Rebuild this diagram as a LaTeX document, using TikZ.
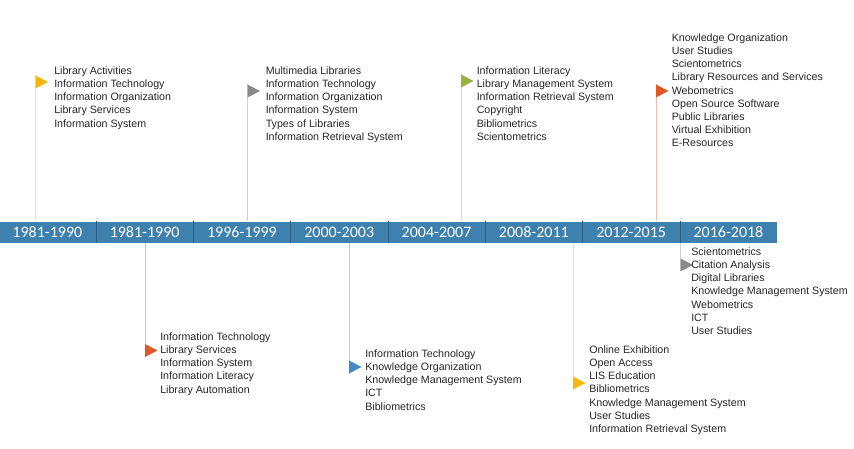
\documentclass[tikz,border=0pt]{standalone}
\usepackage{fontspec}
\setmainfont{Liberation Sans}
\newfontfamily\barfont{Carlito}
\usepackage{xcolor}
\usepackage{tikz}
\definecolor{barblue}{HTML}{3E80AE}
\definecolor{bardark}{HTML}{2A5F86}
\definecolor{flaggold}{HTML}{F6B70A}
\definecolor{flagred}{HTML}{E2572A}
\definecolor{flaggray}{HTML}{8A8A8A}
\definecolor{flagblue}{HTML}{4389C2}
\definecolor{flaggreen}{HTML}{94B43C}

\begin{document}
\begin{tikzpicture}[x=0.75pt, y=-0.75pt,
  period/.style={fill=barblue, text=white, minimum width=72.975pt, minimum height=15.75pt, inner sep=0pt, font=\barfont\fontsize{12}{14}\selectfont},
  topics/.style={anchor=north west, inner sep=0pt, align=left, text=black!85, font=\fontsize{8}{9.9}\selectfont},
  divider/.style={draw=bardark, line width=0.75pt},
  pole/.style={line width=0.75pt}
]
\useasboundingbox (0,0) rectangle (854,449);

% Timeline bar
\node[period] (p1) at (47.35, 232.2) {1981-1990};
\node[period] (p2) at (144.65, 232.2) {1981-1990};
\node[period] (p3) at (241.95, 232.2) {1996-1999};
\node[period] (p4) at (339.25, 232.2) {2000-2003};
\node[period] (p5) at (436.55, 232.2) {2004-2007};
\node[period] (p6) at (533.85, 232.2) {2008-2011};
\node[period] (p7) at (631.15, 232.2) {2012-2015};
\node[period] (p8) at (728.45, 232.2) {2016-2018};

\draw[divider] (p1.north east) -- (p1.south east);
\draw[divider] (p2.north east) -- (p2.south east);
\draw[divider] (p3.north east) -- (p3.south east);
\draw[divider] (p4.north east) -- (p4.south east);
\draw[divider] (p5.north east) -- (p5.south east);
\draw[divider] (p6.north east) -- (p6.south east);
\draw[divider] (p7.north east) -- (p7.south east);

% Flags above the bar
\coordinate (f1) at (35.5, 75.5);
\coordinate (f3) at (247.5, 84.5);
\coordinate (f5) at (461, 74.5);
\coordinate (f7) at (656, 84.5);
\draw[pole, flaggold!40] (f1) -- (f1 |- p1.north);
\draw[pole, flaggray!40] (f3) -- (f3 |- p3.north);
\draw[pole, flaggreen!40] (f5) -- (f5 |- p5.north);
\draw[pole, flagred!40] (f7) -- (f7 |- p7.north);
\fill[flaggold] (f1) -- ++(12.5, 6.5) -- ++(-12.5, 6.5) -- cycle;
\fill[flaggray] (f3) -- ++(12.5, 6.5) -- ++(-12.5, 6.5) -- cycle;
\fill[flaggreen] (f5) -- ++(12.5, 6.5) -- ++(-12.5, 6.5) -- cycle;
\fill[flagred] (f7) -- ++(12.5, 6.5) -- ++(-12.5, 6.5) -- cycle;

% Flags below the bar
\coordinate (f2) at (145, 357);
\coordinate (f4) at (349, 373.5);
\coordinate (f6) at (573, 389.5);
\coordinate (f8) at (680.5, 271.5);
\draw[pole, flagred!40] (p2.south -| f2) -- (f2);
\draw[pole, flagblue!40] (p4.south -| f4) -- (f4);
\draw[pole, flaggold!40] (p6.south -| f6) -- (f6);
\draw[pole, flaggray!40] (p8.south -| f8) -- (f8);
\fill[flagred] (f2) -- ++(12.5, -6.5) -- ++(-12.5, -6.5) -- cycle;
\fill[flagblue] (f4) -- ++(12.5, -6.5) -- ++(-12.5, -6.5) -- cycle;
\fill[flaggold] (f6) -- ++(12.5, -6.5) -- ++(-12.5, -6.5) -- cycle;
\fill[flaggray] (f8) -- ++(12.5, -6.5) -- ++(-12.5, -6.5) -- cycle;

% Topic lists
\node[topics] (t1) at (54, 66.4) {Library Activities\\Information Technology\\Information Organization\\Library Services\\Information System};
\node[topics] (t2) at (160, 332.4) {Information Technology\\Library Services\\Information System\\Information Literacy\\Library Automation};
\node[topics] (t3) at (265.5, 66.4) {Multimedia Libraries\\Information Technology\\Information Organization\\Information System\\Types of Libraries\\Information Retrieval System};
\node[topics] (t4) at (365, 349.4) {Information Technology\\Knowledge Organization\\Knowledge Management System\\ICT\\Bibliometrics};
\node[topics] (t5) at (476.5, 66.4) {Information Literacy\\Library Management System\\Information Retrieval System\\Copyright\\Bibliometrics\\Scientometrics};
\node[topics] (t6) at (589, 345.4) {Online Exhibition\\Open Access\\LIS Education\\Bibliometrics\\Knowledge Management System\\User Studies\\Information Retrieval System};
\node[topics] (t7) at (671.5, 33.4) {Knowledge Organization\\User Studies\\Scientometrics\\Library Resources and Services\\Webometrics\\Open Source Software\\Public Libraries\\Virtual Exhibition\\E-Resources};
\node[topics] (t8) at (691, 247.4) {Scientometrics\\Citation Analysis\\Digital Libraries\\Knowledge Management System\\Webometrics\\ICT\\User Studies};

\end{tikzpicture}
\end{document}
